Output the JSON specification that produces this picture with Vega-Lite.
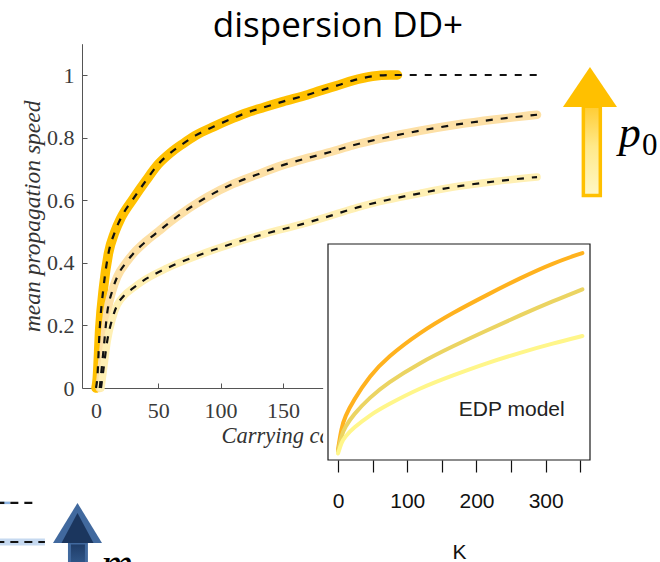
{
  "$schema": "https://vega.github.io/schema/vega-lite/v6.json",
  "width": 660,
  "height": 562,
  "padding": 0,
  "autosize": {"type": "none"},
  "background": "white",
  "config": {"view": {"stroke": null}, "axis": {"grid": false}},
  "datasets": {
    "speed": [
      {"p0": "high", "K": 0, "v": 0}, {"p0": "high", "K": 1, "v": 0.03}, {"p0": "high", "K": 3, "v": 0.19},
      {"p0": "high", "K": 6, "v": 0.32}, {"p0": "high", "K": 10, "v": 0.43}, {"p0": "high", "K": 15, "v": 0.497},
      {"p0": "high", "K": 20, "v": 0.543}, {"p0": "high", "K": 30, "v": 0.605}, {"p0": "high", "K": 40, "v": 0.662},
      {"p0": "high", "K": 50, "v": 0.715}, {"p0": "high", "K": 60, "v": 0.752}, {"p0": "high", "K": 70, "v": 0.781},
      {"p0": "high", "K": 80, "v": 0.807}, {"p0": "high", "K": 95, "v": 0.836}, {"p0": "high", "K": 110, "v": 0.862},
      {"p0": "high", "K": 120, "v": 0.878}, {"p0": "high", "K": 135, "v": 0.897}, {"p0": "high", "K": 150, "v": 0.915},
      {"p0": "high", "K": 170, "v": 0.937}, {"p0": "high", "K": 180, "v": 0.95}, {"p0": "high", "K": 195, "v": 0.968},
      {"p0": "high", "K": 206, "v": 0.982}, {"p0": "high", "K": 222, "v": 0.996}, {"p0": "high", "K": 236, "v": 1.0},
      {"p0": "high", "K": 242, "v": 1.0}, {"p0": "high", "K": 260, "v": 1.0}, {"p0": "high", "K": 300, "v": 1.0},
      {"p0": "high", "K": 354, "v": 1.0},
      {"p0": "mid", "K": 3, "v": 0}, {"p0": "mid", "K": 6, "v": 0.12}, {"p0": "mid", "K": 9, "v": 0.24},
      {"p0": "mid", "K": 13, "v": 0.31}, {"p0": "mid", "K": 17, "v": 0.355}, {"p0": "mid", "K": 25, "v": 0.405},
      {"p0": "mid", "K": 30, "v": 0.43}, {"p0": "mid", "K": 40, "v": 0.468}, {"p0": "mid", "K": 50, "v": 0.5},
      {"p0": "mid", "K": 60, "v": 0.532}, {"p0": "mid", "K": 75, "v": 0.575}, {"p0": "mid", "K": 90, "v": 0.612},
      {"p0": "mid", "K": 110, "v": 0.652}, {"p0": "mid", "K": 130, "v": 0.683}, {"p0": "mid", "K": 150, "v": 0.712},
      {"p0": "mid", "K": 170, "v": 0.735}, {"p0": "mid", "K": 188, "v": 0.754}, {"p0": "mid", "K": 206, "v": 0.775},
      {"p0": "mid", "K": 230, "v": 0.798}, {"p0": "mid", "K": 260, "v": 0.822}, {"p0": "mid", "K": 290, "v": 0.842},
      {"p0": "mid", "K": 320, "v": 0.858}, {"p0": "mid", "K": 354, "v": 0.873},
      {"p0": "low", "K": 4, "v": 0}, {"p0": "low", "K": 6, "v": 0.06}, {"p0": "low", "K": 9, "v": 0.15},
      {"p0": "low", "K": 13, "v": 0.22}, {"p0": "low", "K": 17, "v": 0.265}, {"p0": "low", "K": 22, "v": 0.293},
      {"p0": "low", "K": 30, "v": 0.32}, {"p0": "low", "K": 38, "v": 0.343}, {"p0": "low", "K": 57, "v": 0.383},
      {"p0": "low", "K": 83, "v": 0.425}, {"p0": "low", "K": 110, "v": 0.462}, {"p0": "low", "K": 137, "v": 0.494},
      {"p0": "low", "K": 164, "v": 0.522}, {"p0": "low", "K": 188, "v": 0.55}, {"p0": "low", "K": 210, "v": 0.577},
      {"p0": "low", "K": 233, "v": 0.6}, {"p0": "low", "K": 260, "v": 0.622}, {"p0": "low", "K": 287, "v": 0.642},
      {"p0": "low", "K": 320, "v": 0.66}, {"p0": "low", "K": 354, "v": 0.674}
    ],
    "neighbour": [
      {"curve": "upper", "part": "sim", "K": -80, "v": -0.367}, {"curve": "upper", "part": "sim", "K": -69, "v": -0.367},
      {"curve": "upper", "part": "fit", "K": -80, "v": -0.367}, {"curve": "upper", "part": "fit", "K": -47, "v": -0.367},
      {"curve": "lower", "part": "sim", "K": -80, "v": -0.492}, {"curve": "lower", "part": "sim", "K": -41, "v": -0.492},
      {"curve": "lower", "part": "fit", "K": -80, "v": -0.492}, {"curve": "lower", "part": "fit", "K": -41, "v": -0.492}
    ],
    "edp": [
      {"p0": "high", "K": 0, "speed": 0.05}, {"p0": "high", "K": 5, "speed": 0.15}, {"p0": "high", "K": 10, "speed": 0.2},
      {"p0": "high", "K": 22, "speed": 0.275}, {"p0": "high", "K": 46, "speed": 0.39}, {"p0": "high", "K": 71, "speed": 0.475},
      {"p0": "high", "K": 118, "speed": 0.59}, {"p0": "high", "K": 166, "speed": 0.682}, {"p0": "high", "K": 215, "speed": 0.764},
      {"p0": "high", "K": 263, "speed": 0.842}, {"p0": "high", "K": 311, "speed": 0.912}, {"p0": "high", "K": 353, "speed": 0.958},
      {"p0": "mid", "K": 0, "speed": 0.04}, {"p0": "mid", "K": 5, "speed": 0.115}, {"p0": "mid", "K": 10, "speed": 0.152},
      {"p0": "mid", "K": 22, "speed": 0.21}, {"p0": "mid", "K": 46, "speed": 0.29}, {"p0": "mid", "K": 71, "speed": 0.356},
      {"p0": "mid", "K": 118, "speed": 0.45}, {"p0": "mid", "K": 166, "speed": 0.527}, {"p0": "mid", "K": 215, "speed": 0.6},
      {"p0": "mid", "K": 263, "speed": 0.67}, {"p0": "mid", "K": 311, "speed": 0.736}, {"p0": "mid", "K": 353, "speed": 0.79},
      {"p0": "low", "K": 0, "speed": 0.03}, {"p0": "low", "K": 5, "speed": 0.082}, {"p0": "low", "K": 10, "speed": 0.108},
      {"p0": "low", "K": 22, "speed": 0.148}, {"p0": "low", "K": 46, "speed": 0.208}, {"p0": "low", "K": 71, "speed": 0.255},
      {"p0": "low", "K": 118, "speed": 0.333}, {"p0": "low", "K": 166, "speed": 0.392}, {"p0": "low", "K": 215, "speed": 0.449},
      {"p0": "low", "K": 263, "speed": 0.497}, {"p0": "low", "K": 311, "speed": 0.54}, {"p0": "low", "K": 353, "speed": 0.574}
    ]
  },
  "layer": [
    {
      "layer": [
        {
          "data": {"name": "speed"},
          "transform": [{"filter": "datum.p0 != 'high' || datum.K <= 242"}],
          "mark": {"type": "line", "interpolate": "monotone", "strokeCap": "round"},
          "encoding": {
            "x": {
              "field": "K",
              "type": "quantitative",
              "scale": {"domain": [-11, 360], "range": [82.3, 544.5], "nice": false, "zero": false},
              "axis": {
                "orient": "bottom",
                "offset": -174,
                "values": [0, 50, 100, 150],
                "format": "d",
                "tickSize": -5,
                "tickColor": "#555555",
                "domainColor": "#555555",
                "labelFont": "Liberation Serif",
                "labelFontSize": 22,
                "labelColor": "#3A3A3A",
                "labelPadding": 17,
                "labelFlush": false,
                "labelOverlap": false,
                "title": "Carrying capacity K",
                "titleFont": "Liberation Serif",
                "titleFontStyle": "italic",
                "titleFontWeight": "normal",
                "titleFontSize": 22.5,
                "titleColor": "#333333",
                "titlePadding": 3,
                "zindex": 0
              }
            },
            "y": {
              "field": "v",
              "type": "quantitative",
              "scale": {"domain": [0, 1.1], "range": [388, 43.7], "nice": false, "zero": false},
              "axis": {
                "orient": "left",
                "offset": -82,
                "values": [0, 0.2, 0.4, 0.6, 0.8, 1],
                "format": "~g",
                "tickSize": -5,
                "tickColor": "#555555",
                "domainColor": "#555555",
                "labelFont": "Liberation Serif",
                "labelFontSize": 22,
                "labelColor": "#3A3A3A",
                "labelPadding": 13,
                "labelFlush": false,
                "labelOverlap": false,
                "title": "mean propagation speed",
                "titleFont": "Liberation Serif",
                "titleFontStyle": "italic",
                "titleFontWeight": "normal",
                "titleFontSize": 23.5,
                "titleColor": "#333333",
                "titlePadding": 2,
                "zindex": 0
              }
            },
            "color": {"field": "p0", "type": "nominal", "scale": {"domain": ["high", "mid", "low"], "range": ["#FFC000", "#FDE0A6", "#FFF0B4"]}, "legend": null},
            "strokeWidth": {"field": "p0", "type": "nominal", "scale": {"domain": ["high", "mid", "low"], "range": [9.5, 7.5, 7]}, "legend": null}
          }
        },
        {
          "data": {"name": "speed"},
          "mark": {"type": "line", "color": "#111111", "strokeWidth": 2.2, "strokeDash": [7, 8], "interpolate": "monotone"},
          "encoding": {
            "x": {"field": "K", "type": "quantitative"},
            "y": {"field": "v", "type": "quantitative"},
            "detail": {"field": "p0"}
          }
        },
        {
          "data": {"name": "neighbour"},
          "transform": [{"filter": "datum.part == 'sim' && datum.curve == 'upper'"}],
          "mark": {"type": "line", "color": "#8DB4E2", "strokeWidth": 2.5},
          "encoding": {
            "x": {"field": "K", "type": "quantitative"},
            "y": {"field": "v", "type": "quantitative"}
          }
        },
        {
          "data": {"name": "neighbour"},
          "transform": [{"filter": "datum.part == 'sim' && datum.curve == 'lower'"}],
          "mark": {"type": "line", "color": "#C6D9F0", "strokeWidth": 7},
          "encoding": {
            "x": {"field": "K", "type": "quantitative"},
            "y": {"field": "v", "type": "quantitative"}
          }
        },
        {
          "data": {"name": "neighbour"},
          "transform": [{"filter": "datum.part == 'fit'"}],
          "mark": {"type": "line", "color": "#111111", "strokeWidth": 2.2, "strokeDash": [8, 6]},
          "encoding": {
            "x": {"field": "K", "type": "quantitative"},
            "y": {"field": "v", "type": "quantitative"},
            "detail": {"field": "curve"}
          }
        },
        {
          "data": {"values": [{}]},
          "mark": {
            "type": "rect",
            "fill": {"gradient": "linear", "x1": 0, "y1": 0, "x2": 0, "y2": 1, "stops": [{"offset": 0, "color": "#FFCC33"}, {"offset": 0.45, "color": "#FFE98A"}, {"offset": 1, "color": "#FFF8C6"}]},
            "stroke": "#FFC000",
            "strokeWidth": 3.5
          },
          "encoding": {
            "x": {"datum": 391.2, "type": "quantitative"},
            "x2": {"datum": 404.8},
            "y": {"datum": 0.615, "type": "quantitative"},
            "y2": {"datum": 0.9}
          }
        },
        {
          "data": {"values": [{}]},
          "mark": {"type": "point", "shape": "M0,-0.7407L1,0.7407L-1,0.7407Z", "size": 2916, "filled": true, "color": "#FFC000", "opacity": 1},
          "encoding": {
            "x": {"datum": 396.5, "type": "quantitative"},
            "y": {"datum": 0.9617, "type": "quantitative"}
          }
        },
        {
          "data": {"values": [{}]},
          "mark": {"type": "text", "text": "p", "font": "Liberation Serif", "fontStyle": "italic", "fontSize": 44, "align": "center", "baseline": "alphabetic", "color": "#000000"},
          "encoding": {
            "x": {"datum": 428.5, "type": "quantitative"},
            "y": {"datum": 0.77, "type": "quantitative"}
          }
        },
        {
          "data": {"values": [{}]},
          "mark": {"type": "text", "text": "0", "font": "Liberation Serif", "fontSize": 31, "align": "center", "baseline": "alphabetic", "color": "#000000"},
          "encoding": {
            "x": {"datum": 444.5, "type": "quantitative"},
            "y": {"datum": 0.744, "type": "quantitative"}
          }
        },
        {
          "data": {"values": [{}]},
          "mark": {
            "type": "rect",
            "fill": {"gradient": "linear", "x1": 0, "y1": 0, "x2": 0, "y2": 1, "stops": [{"offset": 0, "color": "#1E3B66"}, {"offset": 1, "color": "#4F86C6"}]},
            "stroke": "#41699E",
            "strokeWidth": 3
          },
          "encoding": {
            "x": {"datum": -21.3, "type": "quantitative"},
            "x2": {"datum": -7.7},
            "y": {"datum": -0.68, "type": "quantitative"},
            "y2": {"datum": -0.495}
          }
        },
        {
          "data": {"values": [{}]},
          "mark": {"type": "point", "shape": "M0,-0.8163L1,0.8163L-1,0.8163Z", "size": 2401, "filled": true, "color": "#41699E", "opacity": 1},
          "encoding": {
            "x": {"datum": -14.85, "type": "quantitative"},
            "y": {"datum": -0.4313, "type": "quantitative"}
          }
        },
        {
          "data": {"values": [{}]},
          "mark": {"type": "point", "shape": "M0,-0.9375L1,0.9375L-1,0.9375Z", "size": 1024, "filled": true, "color": "#1B365E", "opacity": 1},
          "encoding": {
            "x": {"datum": -14.85, "type": "quantitative"},
            "y": {"datum": -0.447, "type": "quantitative"}
          }
        },
        {
          "data": {"values": [{}]},
          "mark": {"type": "text", "text": "m", "font": "Liberation Serif", "fontStyle": "italic", "fontSize": 44, "align": "center", "baseline": "alphabetic", "color": "#000000"},
          "encoding": {
            "x": {"datum": 16.9, "type": "quantitative"},
            "y": {"datum": -0.607, "type": "quantitative"}
          }
        },
        {
          "data": {"values": [{}]},
          "mark": {"type": "text", "text": "dispersion DD+", "font": "Open Sans", "fontSize": 35, "align": "center", "baseline": "alphabetic", "color": "#000000"},
          "encoding": {
            "x": {"datum": 194.2, "type": "quantitative"},
            "y": {"datum": 1.121, "type": "quantitative"}
          }
        }
      ]
    },
    {
      "layer": [
        {
          "data": {"values": [{}]},
          "mark": {"type": "rect", "color": "#FFFFFF"},
          "encoding": {
            "x": {"datum": -21.5, "type": "quantitative"},
            "x2": {"datum": 380},
            "y": {"datum": -0.5, "type": "quantitative", "axis": null},
            "y2": {"datum": 1.035}
          }
        },
        {
          "data": {"values": [{}]},
          "mark": {"type": "rect", "filled": false, "color": "#1A1A1A", "strokeWidth": 1.2},
          "encoding": {
            "x": {"datum": -14.5, "type": "quantitative"},
            "x2": {"datum": 364},
            "y": {"datum": 0, "type": "quantitative", "axis": null},
            "y2": {"datum": 1}
          }
        },
        {
          "data": {"name": "edp"},
          "mark": {"type": "line", "strokeWidth": 4, "interpolate": "basis", "strokeCap": "round"},
          "encoding": {
            "x": {
              "field": "K",
              "type": "quantitative",
              "scale": {"domain": [-14.5, 364], "range": [328, 590], "nice": false, "zero": false},
              "axis": {
                "orient": "bottom",
                "offset": -102,
                "values": [0, 50, 100, 150, 200, 250, 300, 350],
                "labelExpr": "datum.value % 100 === 0 ? datum.label : ''",
                "domain": false,
                "tickSize": 12,
                "tickColor": "#111111",
                "tickWidth": 1.2,
                "labelFont": "Liberation Sans",
                "labelFontSize": 21,
                "labelColor": "#111111",
                "labelPadding": 18.5,
                "labelFlush": false,
                "labelOverlap": false,
                "title": "K",
                "titleFont": "Liberation Sans",
                "titleFontSize": 21,
                "titleFontWeight": "normal",
                "titleColor": "#111111",
                "titlePadding": 30,
                "zindex": 1
              }
            },
            "y": {
              "field": "speed",
              "type": "quantitative",
              "scale": {"domain": [0, 1], "range": [460, 244], "nice": false, "zero": false},
              "axis": null
            },
            "color": {"field": "p0", "type": "nominal", "scale": {"domain": ["high", "mid", "low"], "range": ["#FFB21E", "#EBD462", "#FFF68A"]}, "legend": null}
          }
        },
        {
          "data": {"values": [{}]},
          "mark": {"type": "text", "text": "EDP model", "font": "Liberation Sans", "fontSize": 21, "align": "center", "baseline": "middle", "color": "#222222"},
          "encoding": {
            "x": {"datum": 251, "type": "quantitative"},
            "y": {"datum": 0.231, "type": "quantitative", "axis": null}
          }
        }
      ]
    }
  ],
  "resolve": {
    "scale": {"x": "independent", "y": "independent", "color": "independent", "strokeWidth": "independent"},
    "axis": {"x": "independent", "y": "independent"}
  }
}
